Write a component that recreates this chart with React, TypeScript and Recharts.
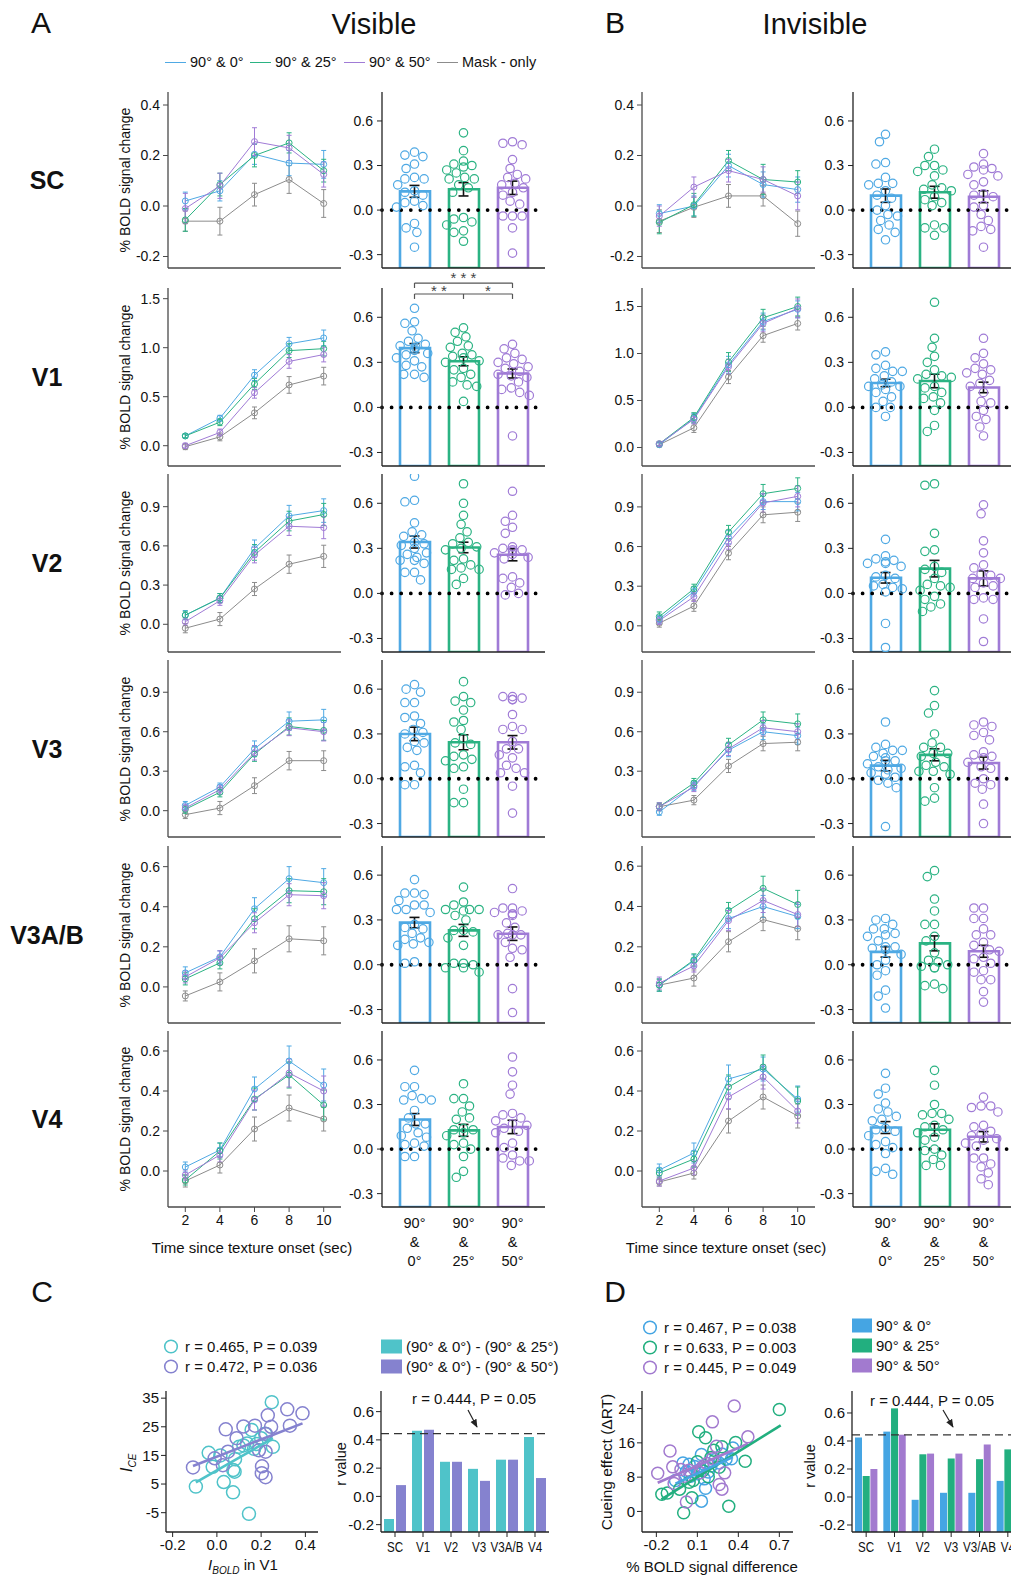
import React from 'react';
import {
  LineChart,
  Line,
  XAxis,
  YAxis,
  ErrorBar,
  ComposedChart,
  Bar,
  Scatter,
  ScatterChart,
  BarChart,
  Cell,
  ReferenceLine,
  ReferenceDot,
} from 'recharts';

const FONT = '"Liberation Sans", Arial, Helvetica, sans-serif';

const BLUE = '#4fa9e4';
const GREEN = '#2bb383';
const PURPLE = '#a07bd6';
const GREY = '#8c8c8c';
const AXIS = '#4a4a4a';
const LINE_COLORS = [BLUE, GREEN, PURPLE, GREY];
const BAR_COLORS = [BLUE, GREEN, PURPLE];

const TIMES = [2, 4, 6, 8, 10];
const REGIONS = ['SC', 'V1', 'V2', 'V3', 'V3A/B', 'V4'];
const CONDITIONS = ['0°', '25°', '50°'];
const LEGEND_A = ['90° & 0°', '90° & 25°', '90° & 50°', 'Mask - only'];

// ---- time courses, rows = 90°&0°, 90°&25°, 90°&50°, mask-only ----
const VIS_SC = [
  [0.02, 0.06, 0.205, 0.17, 0.165],
  [-0.055, 0.085, 0.2, 0.25, 0.14],
  [-0.01, 0.08, 0.255, 0.23, 0.125],
  [-0.06, -0.06, 0.045, 0.105, 0.01],
];
const VIS_SC_ERR = [
  [0.035, 0.04, 0.04, 0.05, 0.055],
  [0.045, 0.045, 0.045, 0.04, 0.045],
  [0.06, 0.05, 0.055, 0.05, 0.05],
  [0.04, 0.055, 0.045, 0.055, 0.055],
];
const VIS_V1 = [
  [0.1, 0.28, 0.72, 1.04, 1.1],
  [0.1, 0.24, 0.63, 0.97, 0.99],
  [0.0, 0.135, 0.54, 0.86, 0.93],
  [-0.01, 0.09, 0.335, 0.62, 0.71],
];
const VIS_V1_ERR = [
  [0.02, 0.03, 0.055, 0.065, 0.08],
  [0.02, 0.035, 0.055, 0.07, 0.075],
  [0.025, 0.035, 0.055, 0.07, 0.075],
  [0.03, 0.04, 0.06, 0.085, 0.09],
];
const VIS_V2 = [
  [0.07, 0.2, 0.58, 0.83, 0.87],
  [0.07, 0.2, 0.55, 0.79, 0.84],
  [0.02, 0.18, 0.53, 0.75, 0.74],
  [-0.03, 0.04, 0.27, 0.46, 0.52],
];
const VIS_V2_ERR = [
  [0.035, 0.035, 0.065, 0.08, 0.09],
  [0.03, 0.035, 0.06, 0.075, 0.085],
  [0.03, 0.035, 0.06, 0.07, 0.085],
  [0.035, 0.05, 0.05, 0.07, 0.085],
];
const VIS_V3 = [
  [0.04, 0.18, 0.47, 0.68, 0.69],
  [0.01, 0.14, 0.43, 0.64, 0.61],
  [0.02, 0.16, 0.44, 0.63, 0.6],
  [-0.03, 0.02, 0.19, 0.38, 0.38],
];
const VIS_V3_ERR = [
  [0.03, 0.03, 0.06, 0.07, 0.08],
  [0.03, 0.035, 0.055, 0.065, 0.075],
  [0.03, 0.035, 0.055, 0.06, 0.07],
  [0.03, 0.05, 0.06, 0.07, 0.075],
];
const VIS_V3AB = [
  [0.07, 0.15, 0.39, 0.54, 0.52],
  [0.04, 0.12, 0.34, 0.48, 0.475],
  [0.05, 0.145, 0.32, 0.46, 0.455],
  [-0.045, 0.025, 0.13, 0.24, 0.23],
];
const VIS_V3AB_ERR = [
  [0.03, 0.03, 0.055, 0.06, 0.07],
  [0.03, 0.03, 0.05, 0.06, 0.065],
  [0.03, 0.035, 0.05, 0.055, 0.065],
  [0.025, 0.045, 0.06, 0.065, 0.07],
];
const VIS_V4 = [
  [0.02, 0.105, 0.41, 0.55, 0.43],
  [-0.045, 0.1, 0.36, 0.48, 0.33],
  [-0.02, 0.08, 0.355, 0.49, 0.4],
  [-0.05, 0.03, 0.21, 0.315, 0.26],
];
const VIS_V4_ERR = [
  [0.025, 0.035, 0.06, 0.075, 0.08],
  [0.025, 0.04, 0.055, 0.065, 0.075],
  [0.025, 0.035, 0.05, 0.07, 0.075],
  [0.03, 0.04, 0.06, 0.065, 0.06],
];

const INV_SC = [
  [-0.03, 0.0, 0.16, 0.085, 0.065],
  [-0.065, 0.005, 0.18, 0.105, 0.095],
  [-0.04, 0.075, 0.14, 0.105, 0.04],
  [-0.06, -0.005, 0.04, 0.04, -0.07],
];
const INV_SC_ERR = [
  [0.035, 0.04, 0.045, 0.05, 0.05],
  [0.045, 0.045, 0.04, 0.06, 0.045],
  [0.04, 0.04, 0.045, 0.05, 0.055],
  [0.045, 0.04, 0.045, 0.04, 0.05],
];
const INV_V1 = [
  [0.03, 0.31, 0.88, 1.34, 1.47],
  [0.04, 0.32, 0.91, 1.38, 1.5],
  [0.04, 0.3, 0.86, 1.32, 1.48],
  [0.03, 0.21, 0.75, 1.19, 1.32],
];
const INV_V1_ERR = [
  [0.02, 0.05, 0.09, 0.09, 0.09],
  [0.02, 0.05, 0.1, 0.09, 0.1],
  [0.02, 0.05, 0.08, 0.09, 0.1],
  [0.025, 0.05, 0.07, 0.07, 0.07],
];
const INV_V2 = [
  [0.05, 0.26, 0.67, 0.94, 0.94],
  [0.07, 0.28, 0.71, 1.0, 1.04],
  [0.04, 0.22, 0.63, 0.93, 0.98],
  [0.02, 0.15, 0.55, 0.84, 0.86],
];
const INV_V2_ERR = [
  [0.03, 0.035, 0.05, 0.06, 0.07],
  [0.035, 0.035, 0.05, 0.07, 0.08],
  [0.03, 0.035, 0.05, 0.07, 0.08],
  [0.03, 0.04, 0.05, 0.06, 0.07],
];
const INV_V3 = [
  [-0.01, 0.19, 0.46, 0.6, 0.57],
  [0.03, 0.21, 0.5, 0.69, 0.66],
  [0.03, 0.18, 0.47, 0.63, 0.6],
  [0.03, 0.08, 0.34, 0.51, 0.52],
];
const INV_V3_ERR = [
  [0.025, 0.035, 0.05, 0.06, 0.065],
  [0.03, 0.035, 0.05, 0.06, 0.075],
  [0.03, 0.035, 0.05, 0.055, 0.06],
  [0.025, 0.035, 0.05, 0.055, 0.065],
];
const INV_V3AB = [
  [0.01, 0.13, 0.34, 0.4, 0.35],
  [0.01, 0.135, 0.38, 0.49, 0.41],
  [0.02, 0.105, 0.33, 0.43, 0.36],
  [0.01, 0.045, 0.225, 0.335, 0.29],
];
const INV_V3AB_ERR = [
  [0.03, 0.03, 0.05, 0.055, 0.06],
  [0.03, 0.03, 0.04, 0.06, 0.07],
  [0.03, 0.03, 0.05, 0.06, 0.06],
  [0.03, 0.04, 0.05, 0.055, 0.055],
];
const INV_V4 = [
  [0.005, 0.09, 0.46, 0.51, 0.36],
  [-0.01, 0.06, 0.42, 0.52, 0.35],
  [-0.05, 0.015, 0.37, 0.47, 0.3],
  [-0.055, -0.01, 0.25, 0.37, 0.275],
];
const INV_V4_ERR = [
  [0.03, 0.05, 0.07, 0.06, 0.065],
  [0.025, 0.04, 0.06, 0.06, 0.07],
  [0.025, 0.035, 0.06, 0.06, 0.06],
  [0.02, 0.03, 0.06, 0.06, 0.06],
];

// ---- averaged responses (bars) and single subjects (dots) ----
const VIS_MEAN = [
  [0.126, 0.14, 0.15],
  [0.395, 0.307, 0.226],
  [0.342, 0.306, 0.257],
  [0.3, 0.244, 0.244],
  [0.282, 0.23, 0.208],
  [0.199, 0.126, 0.149],
];
const VIS_SEM = [
  [0.04, 0.045, 0.045],
  [0.03, 0.03, 0.03],
  [0.04, 0.035, 0.04],
  [0.045, 0.05, 0.045],
  [0.035, 0.04, 0.045],
  [0.04, 0.04, 0.045],
];
const INV_MEAN = [
  [0.097, 0.12, 0.09],
  [0.163, 0.176, 0.133],
  [0.104, 0.165, 0.1],
  [0.088, 0.16, 0.105],
  [0.086, 0.143, 0.09],
  [0.145, 0.13, 0.083],
];
const INV_SEM = [
  [0.045, 0.04, 0.04],
  [0.025, 0.045, 0.035],
  [0.035, 0.055, 0.05],
  [0.035, 0.04, 0.04],
  [0.035, 0.05, 0.04],
  [0.04, 0.04, 0.035],
];

const VIS_SC_DOTS = [
  [0.39, 0.37, 0.36, 0.31, 0.28, 0.22, 0.21, 0.21, 0.17, 0.13, 0.12, 0.1, 0.06, 0.05, 0.03, 0.02, -0.09, -0.12, -0.15, -0.25],
  [0.52, 0.4, 0.33, 0.31, 0.3, 0.29, 0.27, 0.25, 0.22, 0.21, 0.21, 0.17, 0.15, 0.12, -0.05, -0.06, -0.08, -0.1, -0.14, -0.15, -0.21],
  [0.46, 0.45, 0.44, 0.34, 0.28, 0.24, 0.22, 0.21, 0.18, 0.17, 0.15, 0.12, 0.1, 0.06, 0.04, -0.04, -0.04, -0.04, -0.12, -0.29],
];
const VIS_V1_DOTS = [
  [0.66, 0.57, 0.56, 0.51, 0.46, 0.44, 0.42, 0.41, 0.4, 0.39, 0.38, 0.36, 0.35, 0.33, 0.31, 0.28, 0.27, 0.22, 0.22, 0.2],
  [0.53, 0.5, 0.47, 0.44, 0.41, 0.4, 0.36, 0.35, 0.34, 0.33, 0.31, 0.3, 0.26, 0.25, 0.22, 0.2, 0.17, 0.15, 0.14, 0.04],
  [0.42, 0.39, 0.36, 0.33, 0.32, 0.3, 0.29, 0.27, 0.26, 0.24, 0.22, 0.21, 0.2, 0.17, 0.13, 0.12, 0.1, 0.08, -0.19],
];
const VIS_V2_DOTS = [
  [0.78, 0.62, 0.61, 0.47, 0.41, 0.39, 0.38, 0.34, 0.33, 0.32, 0.3, 0.27, 0.26, 0.24, 0.22, 0.22, 0.2, 0.14, 0.14, 0.09],
  [0.73, 0.6, 0.52, 0.46, 0.41, 0.37, 0.34, 0.33, 0.31, 0.3, 0.29, 0.23, 0.22, 0.19, 0.17, 0.16, 0.16, 0.1, 0.06],
  [0.68, 0.52, 0.48, 0.44, 0.4, 0.31, 0.3, 0.29, 0.29, 0.28, 0.27, 0.26, 0.24, 0.23, 0.11, 0.1, 0.07, 0.04, 0.0, -0.01],
];
const VIS_V3_DOTS = [
  [0.63, 0.6, 0.58, 0.51, 0.51, 0.42, 0.41, 0.37, 0.33, 0.31, 0.3, 0.25, 0.24, 0.21, 0.19, 0.09, 0.08, 0.04, -0.04, -0.04],
  [0.65, 0.55, 0.52, 0.51, 0.46, 0.39, 0.38, 0.33, 0.27, 0.24, 0.23, 0.16, 0.15, 0.13, 0.12, 0.08, 0.07, -0.07, -0.16, -0.16],
  [0.55, 0.55, 0.54, 0.53, 0.53, 0.43, 0.35, 0.33, 0.33, 0.25, 0.2, 0.2, 0.16, 0.14, 0.09, 0.07, 0.04, 0.04, -0.05, -0.23],
];
const VIS_V3AB_DOTS = [
  [0.57, 0.48, 0.48, 0.47, 0.43, 0.4, 0.4, 0.37, 0.37, 0.35, 0.27, 0.25, 0.24, 0.21, 0.18, 0.17, 0.15, 0.14, 0.13, 0.02, 0.01],
  [0.52, 0.42, 0.4, 0.37, 0.37, 0.37, 0.36, 0.33, 0.3, 0.23, 0.23, 0.22, 0.18, 0.13, 0.01, 0.01, 0.0, -0.02, -0.02, -0.05],
  [0.51, 0.38, 0.38, 0.36, 0.35, 0.34, 0.34, 0.33, 0.28, 0.25, 0.21, 0.2, 0.2, 0.2, 0.15, 0.11, 0.1, 0.05, -0.16, -0.32],
];
const VIS_V4_DOTS = [
  [0.53, 0.42, 0.42, 0.36, 0.34, 0.33, 0.33, 0.26, 0.21, 0.17, 0.17, 0.14, 0.11, 0.09, 0.08, 0.04, 0.03, 0.02, -0.05, -0.05],
  [0.44, 0.34, 0.34, 0.29, 0.25, 0.21, 0.2, 0.14, 0.13, 0.13, 0.11, 0.09, 0.04, 0.03, 0.0, -0.05, -0.15, -0.19],
  [0.62, 0.52, 0.43, 0.37, 0.24, 0.23, 0.21, 0.19, 0.17, 0.16, 0.14, 0.12, 0.11, 0.04, 0.01, -0.04, -0.06, -0.08, -0.08, -0.11],
];
const INV_SC_DOTS = [
  [0.51, 0.46, 0.32, 0.31, 0.22, 0.18, 0.18, 0.17, 0.13, 0.1, 0.08, 0.03, 0.0, -0.03, -0.04, -0.07, -0.1, -0.13, -0.15, -0.2],
  [0.41, 0.36, 0.3, 0.3, 0.27, 0.26, 0.23, 0.17, 0.15, 0.14, 0.13, 0.09, 0.07, 0.05, 0.03, -0.1, -0.12, -0.12, -0.17],
  [0.38, 0.31, 0.29, 0.28, 0.27, 0.24, 0.23, 0.19, 0.17, 0.11, 0.1, 0.09, 0.03, 0.02, -0.03, -0.07, -0.11, -0.13, -0.14, -0.25],
];
const INV_V1_DOTS = [
  [0.37, 0.35, 0.28, 0.26, 0.24, 0.24, 0.21, 0.19, 0.17, 0.15, 0.14, 0.14, 0.12, 0.1, 0.07, 0.04, 0.0, 0.0, -0.06],
  [0.7, 0.46, 0.4, 0.34, 0.3, 0.25, 0.22, 0.21, 0.2, 0.19, 0.14, 0.13, 0.1, 0.07, 0.06, 0.03, -0.02, -0.12, -0.16],
  [0.46, 0.36, 0.33, 0.29, 0.26, 0.25, 0.23, 0.22, 0.18, 0.16, 0.14, 0.1, 0.04, 0.03, -0.02, -0.06, -0.08, -0.13, -0.19],
];
const INV_V2_DOTS = [
  [0.36, 0.25, 0.23, 0.22, 0.21, 0.2, 0.2, 0.18, 0.12, 0.11, 0.1, 0.06, 0.05, 0.04, 0.03, 0.01, -0.2, -0.36],
  [0.73, 0.72, 0.4, 0.29, 0.28, 0.18, 0.16, 0.14, 0.1, 0.06, 0.05, 0.04, 0.02, -0.02, -0.04, -0.07, -0.09, -0.12],
  [0.59, 0.53, 0.35, 0.27, 0.19, 0.17, 0.13, 0.12, 0.1, 0.1, 0.07, 0.05, 0.04, -0.03, -0.04, -0.04, -0.17, -0.32],
];
const INV_V3_DOTS = [
  [0.38, 0.23, 0.21, 0.19, 0.19, 0.17, 0.15, 0.14, 0.12, 0.12, 0.1, 0.08, 0.07, 0.06, 0.04, 0.03, 0.01, -0.01, -0.03, -0.06, -0.32],
  [0.59, 0.49, 0.44, 0.3, 0.24, 0.21, 0.21, 0.17, 0.17, 0.15, 0.11, 0.09, 0.08, 0.05, 0.05, 0.03, -0.06, -0.13, -0.15],
  [0.38, 0.36, 0.35, 0.31, 0.29, 0.26, 0.18, 0.16, 0.15, 0.14, 0.11, 0.08, 0.07, 0.0, -0.03, -0.04, -0.07, -0.17, -0.3],
];
const INV_V3AB_DOTS = [
  [0.31, 0.3, 0.27, 0.24, 0.24, 0.21, 0.2, 0.19, 0.16, 0.12, 0.12, 0.11, 0.1, 0.07, 0.03, 0.0, -0.04, -0.07, -0.17, -0.21, -0.29],
  [0.63, 0.59, 0.44, 0.36, 0.27, 0.27, 0.19, 0.16, 0.08, 0.03, 0.02, 0.0, -0.01, -0.02, -0.02, -0.13, -0.14, -0.16],
  [0.38, 0.38, 0.31, 0.31, 0.24, 0.2, 0.2, 0.15, 0.13, 0.1, 0.09, 0.05, 0.04, 0.01, -0.04, -0.05, -0.1, -0.1, -0.18, -0.25],
];
const INV_V4_DOTS = [
  [0.51, 0.41, 0.37, 0.31, 0.27, 0.25, 0.22, 0.2, 0.19, 0.14, 0.13, 0.12, 0.09, 0.05, 0.03, 0.01, -0.03, -0.13, -0.15, -0.17],
  [0.53, 0.43, 0.3, 0.24, 0.24, 0.23, 0.2, 0.16, 0.15, 0.13, 0.11, 0.08, 0.06, 0.0, -0.01, -0.04, -0.07, -0.11, -0.11],
  [0.35, 0.29, 0.29, 0.28, 0.25, 0.16, 0.15, 0.12, 0.1, 0.09, 0.07, 0.06, 0.04, 0.02, -0.06, -0.06, -0.1, -0.12, -0.16, -0.2, -0.24],
];

// ---- panel C ----
const C_CYAN = '#4fc3c9';
const C_PURPLE = '#8582cf';
const C_PTS_25 = [
  { x: -0.095, y: 4.1 }, { x: -0.037, y: 15.9 }, { x: -0.019, y: 11 }, { x: 0.016, y: 15 },
  { x: 0.031, y: 5.7 }, { x: 0.073, y: 2.1 }, { x: 0.074, y: 9.9 }, { x: 0.08, y: 9.3 },
  { x: 0.082, y: 13.7 }, { x: 0.1, y: 18 }, { x: 0.12, y: 18.5 }, { x: 0.136, y: 19.2 },
  { x: 0.145, y: -5.4 }, { x: 0.157, y: 23.9 }, { x: 0.168, y: 17.3 }, { x: 0.18, y: 19 },
  { x: 0.2, y: 21 }, { x: 0.218, y: 22.6 }, { x: 0.248, y: 33.6 }, { x: 0.253, y: 18 },
];
const C_PTS_50 = [
  { x: -0.108, y: 10.8 }, { x: -0.01, y: 14 }, { x: 0.027, y: 11.6 }, { x: 0.04, y: 24.1 },
  { x: 0.05, y: 16.3 }, { x: 0.089, y: 21 }, { x: 0.12, y: 25.1 }, { x: 0.172, y: 25.4 },
  { x: 0.19, y: 16.8 }, { x: 0.204, y: 11.2 }, { x: 0.203, y: 8.8 }, { x: 0.22, y: 7.4 },
  { x: 0.22, y: 16.3 }, { x: 0.222, y: 22.5 }, { x: 0.23, y: 29 }, { x: 0.245, y: 25 },
  { x: 0.318, y: 31.1 }, { x: 0.33, y: 25.4 }, { x: 0.387, y: 29.7 },
];
const C_FIT_25 = [{ x: -0.095, y: 5.6 }, { x: 0.253, y: 21 }];
const C_FIT_50 = [{ x: -0.108, y: 11.3 }, { x: 0.387, y: 26.2 }];
const C_REGIONS = ['SC', 'V1', 'V2', 'V3', 'V3A/B', 'V4'];
const C_R_25 = [-0.16, 0.465, 0.245, 0.195, 0.26, 0.42];
const C_R_50 = [0.08, 0.472, 0.245, 0.11, 0.26, 0.13];

// ---- panel D ----
const D_BLUE = '#45a5e3';
const D_GREEN = '#22af7f';
const D_PURPLE = '#a27acf';
const D_PTS_0 = [
  { x: -0.005, y: 11.3 }, { x: 0.13, y: 13.3 }, { x: 0.16, y: 5.4 }, { x: 0.13, y: 2.4 },
  { x: 0.35, y: 12.3 }, { x: 0.36, y: 14.8 }, { x: -0.06, y: 7.2 }, { x: 0.02, y: 9.3 },
  { x: 0.05, y: 8.2 }, { x: 0.08, y: 10.5 }, { x: 0.1, y: 8.8 }, { x: 0.12, y: 9.8 },
  { x: 0.15, y: 7.6 }, { x: 0.18, y: 9.2 }, { x: 0.2, y: 10.6 }, { x: 0.23, y: 12.1 },
  { x: 0.26, y: 11.3 }, { x: 0.28, y: 13.4 }, { x: 0.31, y: 12.2 }, { x: 0.04, y: 11 },
];
const D_PTS_25 = [
  { x: -0.16, y: 4 }, { x: -0.12, y: 4.3 }, { x: -0.03, y: 5.2 }, { x: 0.0, y: -0.3 },
  { x: 0.06, y: 3.2 }, { x: 0.11, y: 18.6 }, { x: 0.16, y: 17.2 }, { x: 0.28, y: 15.1 },
  { x: 0.38, y: 16.1 }, { x: 0.45, y: 11.7 }, { x: 0.33, y: 1.2 }, { x: 0.7, y: 23.8 },
  { x: 0.18, y: 8.1 }, { x: 0.04, y: 6.8 }, { x: 0.22, y: 14.3 }, { x: 0.1, y: 11.6 },
  { x: 0.2, y: 12.6 }, { x: 0.26, y: 10.3 }, { x: 0.14, y: 9.5 }, { x: 0.07, y: 7.2 },
];
const D_PTS_50 = [
  { x: -0.19, y: 8.9 }, { x: -0.1, y: 14.1 }, { x: -0.08, y: 10.4 }, { x: -0.07, y: 6.5 },
  { x: -0.02, y: 9.8 }, { x: 0.02, y: 2.2 }, { x: 0.04, y: 9.6 }, { x: 0.21, y: 20.9 },
  { x: 0.24, y: 15.2 }, { x: 0.37, y: 24.6 }, { x: 0.47, y: 17.4 }, { x: 0.3, y: 9 },
  { x: 0.28, y: 5.2 }, { x: 0.14, y: 10.4 }, { x: 0.17, y: 11.2 }, { x: 0.21, y: 12.3 },
  { x: 0.26, y: 6.3 }, { x: 0.01, y: 8.2 }, { x: 0.12, y: 9 },
];
const D_FIT_0 = [{ x: -0.06, y: 6.5 }, { x: 0.36, y: 12.7 }];
const D_FIT_25 = [{ x: -0.163, y: 2.8 }, { x: 0.71, y: 20.1 }];
const D_FIT_50 = [{ x: -0.19, y: 6.7 }, { x: 0.47, y: 15.8 }];
const D_REGIONS = ['SC', 'V1', 'V2', 'V3', 'V3/AB', 'V4'];
const D_R_0 = [0.425, 0.467, -0.02, 0.03, 0.03, 0.115];
const D_R_25 = [0.15, 0.633, 0.305, 0.275, 0.27, 0.34];
const D_R_50 = [0.2, 0.445, 0.31, 0.31, 0.375, 0.3];
const R_CRIT = 0.444;

// ---- layout ----
const ROW_TOP = [92, 288, 474, 660, 846, 1031];
const ROW_BOTTOM = [268, 466, 652, 837, 1023, 1207];
const BAR_DOMAIN: [number, number] = [-0.39, 0.795];
const BAR_TICKS = [-0.3, 0, 0.3, 0.6];
const T_SMALL = [-0.2, 0, 0.2, 0.4];
const T_V1 = [0, 0.5, 1, 1.5];
const T_V23 = [0, 0.3, 0.6, 0.9];
const T_V34 = [0, 0.2, 0.4, 0.6];

const VIS_ROWS = [
  { lines: VIS_SC, err: VIS_SC_ERR, dots: VIS_SC_DOTS, domain: [-0.2455, 0.4515], ticks: T_SMALL },
  { lines: VIS_V1, err: VIS_V1_ERR, dots: VIS_V1_DOTS, domain: [-0.207, 1.609], ticks: T_V1 },
  { lines: VIS_V2, err: VIS_V2_ERR, dots: VIS_V2_DOTS, domain: [-0.212, 1.15], ticks: T_V23 },
  { lines: VIS_V3, err: VIS_V3_ERR, dots: VIS_V3_DOTS, domain: [-0.2, 1.145], ticks: T_V23 },
  { lines: VIS_V3AB, err: VIS_V3AB_ERR, dots: VIS_V3AB_DOTS, domain: [-0.18, 0.703], ticks: T_V34 },
  { lines: VIS_V4, err: VIS_V4_ERR, dots: VIS_V4_DOTS, domain: [-0.18, 0.7], ticks: T_V34 },
];
const INV_ROWS = [
  { lines: INV_SC, err: INV_SC_ERR, dots: INV_SC_DOTS, domain: [-0.2455, 0.4515], ticks: T_SMALL },
  { lines: INV_V1, err: INV_V1_ERR, dots: INV_V1_DOTS, domain: [-0.197, 1.697], ticks: T_V1 },
  { lines: INV_V2, err: INV_V2_ERR, dots: INV_V2_DOTS, domain: [-0.198, 1.149], ticks: T_V23 },
  { lines: INV_V3, err: INV_V3_ERR, dots: INV_V3_DOTS, domain: [-0.2, 1.145], ticks: T_V23 },
  { lines: INV_V3AB, err: INV_V3AB_ERR, dots: INV_V3AB_DOTS, domain: [-0.178, 0.7], ticks: T_V34 },
  { lines: INV_V4, err: INV_V4_ERR, dots: INV_V4_DOTS, domain: [-0.18, 0.7], ticks: T_V34 },
];

const fmt1 = (v: number) => v.toFixed(1);
const tickStyle = { fontSize: 14, fill: '#111', fontFamily: FONT };

// beeswarm: horizontal pixel offsets so the open circles don't pile up
function swarm(values: number[], pxPerY: number): number[] {
  const placed: [number, number][] = [];
  return values.map((v) => {
    const y = v * pxPerY;
    let off = 0;
    for (let k = 0; k < 30; k++) {
      const cand = k === 0 ? 0 : (k % 2 ? -1 : 1) * Math.ceil(k / 2) * 1.2;
      if (placed.every(([px, py]) => Math.hypot(px - cand, py - y) >= 9.2)) {
        off = cand;
        break;
      }
    }
    placed.push([off, y]);
    return off;
  });
}

function TimeCourse({ x0, y0, y1, row, showX }: any) {
  const L = 50, T = 10, R = 10, XH = 34, W = 173;
  const data = TIMES.map((t, i) => {
    const d: any = { t };
    row.lines.forEach((s: number[], k: number) => {
      d['v' + k] = s[i];
      d['e' + k] = row.err[k][i];
    });
    return d;
  });
  return (
    <div style={{ position: 'absolute', left: x0 - L, top: y0 - T }}>
      <LineChart width={L + W + R} height={T + (y1 - y0) + XH} data={data}
        margin={{ top: T, right: R, bottom: 0, left: 0 }}>
        <XAxis dataKey="t" type="number" domain={[1, 11]} ticks={TIMES} height={XH} allowDataOverflow
          axisLine={{ stroke: AXIS, strokeWidth: 1.3 }}
          tickLine={showX ? { stroke: AXIS } : false}
          tick={showX ? tickStyle : false} tickSize={5} tickMargin={3} />
        <YAxis width={L} type="number" domain={row.domain} ticks={row.ticks} allowDataOverflow
          tickFormatter={fmt1} tick={tickStyle} tickSize={5} tickMargin={3}
          axisLine={{ stroke: AXIS, strokeWidth: 1.3 }} tickLine={{ stroke: AXIS }} />
        {[3, 0, 1, 2].map((k) => (
          <Line key={k} dataKey={'v' + k} stroke={LINE_COLORS[k]} strokeWidth={1}
            dot={{ r: 3, fill: 'none', stroke: LINE_COLORS[k], strokeWidth: 1 }}
            activeDot={false} isAnimationActive={false}>
            <ErrorBar dataKey={'e' + k} direction="y" width={2.5} stroke={LINE_COLORS[k]}
              strokeWidth={1} isAnimationActive={false} />
          </Line>
        ))}
      </LineChart>
    </div>
  );
}

const CondTick = (p: any) => (
  <text x={p.x} y={p.y} textAnchor="middle" fontSize={14.5} fill="#111" fontFamily={FONT}>
    <tspan x={p.x} dy={13}>90°</tspan>
    <tspan x={p.x} dy={19}>&amp;</tspan>
    <tspan x={p.x} dy={19}>{p.payload.value}</tspan>
  </text>
);

function SwarmBars({ x0, y0, y1, mean, sem, dots, showX, sig }: any) {
  const L = 45, R = 5, W = 163, XH = 64;
  const T = sig ? 30 : 10;
  const plotH = y1 - y0;
  const pxY = plotH / (BAR_DOMAIN[1] - BAR_DOMAIN[0]);
  const pxX = (W - 16) / 3;
  const bars = CONDITIONS.map((c, i) => ({ cond: c, span: [BAR_DOMAIN[0], mean[i]] }));
  const errs = mean.map((m: number, i: number) => ({ x: i + 1, y: m, sem: sem[i] }));
  const clouds = dots.map((vals: number[], i: number) => {
    const offs = swarm(vals, pxY);
    return vals.map((v, j) => ({ x: i + 1 + offs[j] / pxX, y: v }));
  });
  return (
    <div style={{ position: 'absolute', left: x0 - L, top: y0 - T }}>
      <ComposedChart width={L + W + R} height={T + plotH + XH} data={bars}
        margin={{ top: T, right: R, bottom: 0, left: 0 }}>
        <XAxis dataKey="cond" height={XH} padding={{ left: 8, right: 8 }} interval={0}
          axisLine={{ stroke: '#222', strokeWidth: 1.3 }} tickLine={false}
          tick={showX ? <CondTick /> : false} />
        <XAxis xAxisId="num" type="number" dataKey="x" domain={[0.5, 3.5]} allowDataOverflow hide
          padding={{ left: 8, right: 8 }} />
        <YAxis width={L} type="number" domain={BAR_DOMAIN} ticks={BAR_TICKS} allowDataOverflow
          tickFormatter={fmt1} tick={tickStyle} tickSize={5} tickMargin={4}
          axisLine={{ stroke: '#222', strokeWidth: 1.3 }} tickLine={{ stroke: '#222' }} />
        <Bar dataKey="span" barSize={30} isAnimationActive={false}>
          {bars.map((b, i) => (
            <Cell key={b.cond} fill="none" stroke={BAR_COLORS[i]} strokeWidth={2.6} />
          ))}
        </Bar>
        <ReferenceLine y={0} stroke="#000" strokeWidth={3.8} strokeDasharray="0 9.6" strokeLinecap="round" />
        {clouds.map((pts: any[], i: number) => (
          <Scatter key={i} xAxisId="num" data={pts} dataKey="y" isAnimationActive={false}
            shape={(p: any) => (
              <circle cx={p.cx} cy={p.cy} r={4.2} fill="none" stroke={BAR_COLORS[i]} strokeWidth={1.2} />
            )} />
        ))}
        <Scatter xAxisId="num" data={errs} dataKey="y" isAnimationActive={false} shape={() => <g />}>
          <ErrorBar dataKey="sem" direction="y" width={5} stroke="#111" strokeWidth={1.6}
            isAnimationActive={false} />
        </Scatter>
        {sig && [
          <ReferenceLine key="s1" xAxisId="num" ifOverflow="visible" stroke="#555" strokeWidth={1.2}
            segment={[{ x: 1, y: 0.828 }, { x: 3, y: 0.828 }]} />,
          <ReferenceLine key="s1a" xAxisId="num" ifOverflow="visible" stroke="#555" strokeWidth={1.2}
            segment={[{ x: 1, y: 0.828 }, { x: 1, y: 0.795 }]} />,
          <ReferenceLine key="s1b" xAxisId="num" ifOverflow="visible" stroke="#555" strokeWidth={1.2}
            segment={[{ x: 3, y: 0.828 }, { x: 3, y: 0.795 }]} />,
          <ReferenceLine key="s2" xAxisId="num" ifOverflow="visible" stroke="#555" strokeWidth={1.2}
            segment={[{ x: 1, y: 0.755 }, { x: 3, y: 0.755 }]} />,
          ...[1, 2, 3].map((c) => (
            <ReferenceLine key={'t' + c} xAxisId="num" ifOverflow="visible" stroke="#555" strokeWidth={1.2}
              segment={[{ x: c, y: 0.755 }, { x: c, y: 0.722 }]} />
          )),
          <ReferenceDot key="d3" xAxisId="num" x={2} y={0.862} r={0} ifOverflow="visible"
            fill="none" stroke="none"
            label={{ value: '* * *', position: 'center', fill: '#444', fontSize: 15 }} />,
          <ReferenceDot key="d2" xAxisId="num" x={1.5} y={0.78} r={0} ifOverflow="visible"
            fill="none" stroke="none"
            label={{ value: '* *', position: 'center', fill: '#444', fontSize: 15 }} />,
          <ReferenceDot key="d1" xAxisId="num" x={2.5} y={0.78} r={0} ifOverflow="visible"
            fill="none" stroke="none"
            label={{ value: '*', position: 'center', fill: '#444', fontSize: 15 }} />,
        ]}
      </ComposedChart>
    </div>
  );
}

const NarrowTick = (p: any) => (
  <text x={p.x} y={p.y + 13} textAnchor="middle" fontSize={14.5} fill="#111" fontFamily={FONT}
    transform={`translate(${p.x} 0) scale(0.8 1) translate(${-p.x} 0)`}>
    {p.payload.value}
  </text>
);

const openCircle = (c: string, r: number) => (p: any) => (
  <circle cx={p.cx} cy={p.cy} r={r} fill="none" stroke={c} strokeWidth={1.5} />
);

function CScatter() {
  const L = 40, T = 8, W = 152, H = 141;
  return (
    <div style={{ position: 'absolute', left: 166 - L, top: 1391 - T }}>
      <ScatterChart width={L + W + 10} height={T + H + 32} margin={{ top: T, right: 10, bottom: 0, left: 0 }}>
        <XAxis type="number" dataKey="x" domain={[-0.23, 0.457]} ticks={[-0.2, 0, 0.2, 0.4]} allowDataOverflow
          tickFormatter={fmt1} height={32} tick={{ ...tickStyle, fontSize: 15 }} tickSize={5} tickMargin={2}
          axisLine={{ stroke: '#222', strokeWidth: 1.3 }} tickLine={{ stroke: '#222' }} />
        <YAxis type="number" dataKey="y" width={L} domain={[-11.75, 37.5]} ticks={[-5, 5, 15, 25, 35]}
          allowDataOverflow tick={{ ...tickStyle, fontSize: 15 }} tickSize={5} tickMargin={2}
          axisLine={{ stroke: '#222', strokeWidth: 1.3 }} tickLine={{ stroke: '#222' }} />
        <Scatter data={C_PTS_25} shape={openCircle(C_CYAN, 6.5)} isAnimationActive={false} />
        <Scatter data={C_PTS_50} shape={openCircle(C_PURPLE, 6.5)} isAnimationActive={false} />
        <Scatter data={C_FIT_25} line={{ stroke: C_CYAN, strokeWidth: 2.6 }} shape={() => <g />} isAnimationActive={false} />
        <Scatter data={C_FIT_50} line={{ stroke: C_PURPLE, strokeWidth: 2.6 }} shape={() => <g />} isAnimationActive={false} />
      </ScatterChart>
    </div>
  );
}

function CBars() {
  const L = 40, T = 8, W = 168, H = 141;
  const data = C_REGIONS.map((r, i) => ({ r, a: [-0.252, C_R_25[i]], b: [-0.252, C_R_50[i]] }));
  return (
    <div style={{ position: 'absolute', left: 381 - L, top: 1391 - T }}>
      <BarChart width={L + W + 5} height={T + H + 34} data={data} barGap={2}
        margin={{ top: T, right: 5, bottom: 0, left: 0 }}>
        <XAxis dataKey="r" height={34} tick={<NarrowTick />} tickSize={5} interval={0}
          axisLine={{ stroke: '#222', strokeWidth: 1.3 }} tickLine={{ stroke: '#222' }} />
        <YAxis width={L} type="number" domain={[-0.252, 0.746]} ticks={[-0.2, 0, 0.2, 0.4, 0.6]}
          allowDataOverflow tickFormatter={fmt1} tick={{ ...tickStyle, fontSize: 15 }} tickSize={5} tickMargin={2}
          axisLine={{ stroke: '#222', strokeWidth: 1.3 }} tickLine={{ stroke: '#222' }} />
        <Bar dataKey="a" fill={C_CYAN} barSize={10} isAnimationActive={false} />
        <Bar dataKey="b" fill={C_PURPLE} barSize={10} isAnimationActive={false} />
        <ReferenceLine y={R_CRIT} stroke="#333" strokeWidth={1.3} strokeDasharray="8 5" />
      </BarChart>
    </div>
  );
}

function DScatter() {
  const L = 40, T = 8, W = 151, H = 141;
  return (
    <div style={{ position: 'absolute', left: 642 - L, top: 1391 - T }}>
      <ScatterChart width={L + W + 10} height={T + H + 32} margin={{ top: T, right: 10, bottom: 0, left: 0 }}>
        <XAxis type="number" dataKey="x" domain={[-0.305, 0.8]} ticks={[-0.2, 0.1, 0.4, 0.7]} allowDataOverflow
          tickFormatter={fmt1} height={32} tick={{ ...tickStyle, fontSize: 15 }} tickSize={5} tickMargin={2}
          axisLine={{ stroke: '#222', strokeWidth: 1.3 }} tickLine={{ stroke: '#222' }} />
        <YAxis type="number" dataKey="y" width={L} domain={[-4.8, 28.1]} ticks={[0, 8, 16, 24]}
          allowDataOverflow tick={{ ...tickStyle, fontSize: 15 }} tickSize={5} tickMargin={2}
          axisLine={{ stroke: '#222', strokeWidth: 1.3 }} tickLine={{ stroke: '#222' }} />
        <Scatter data={D_PTS_0} shape={openCircle(D_BLUE, 6)} isAnimationActive={false} />
        <Scatter data={D_PTS_25} shape={openCircle(D_GREEN, 6)} isAnimationActive={false} />
        <Scatter data={D_PTS_50} shape={openCircle(D_PURPLE, 6)} isAnimationActive={false} />
        <Scatter data={D_FIT_50} line={{ stroke: D_PURPLE, strokeWidth: 2.6 }} shape={() => <g />} isAnimationActive={false} />
        <Scatter data={D_FIT_25} line={{ stroke: D_GREEN, strokeWidth: 2.6 }} shape={() => <g />} isAnimationActive={false} />
        <Scatter data={D_FIT_0} line={{ stroke: D_BLUE, strokeWidth: 2.6 }} shape={() => <g />} isAnimationActive={false} />
      </ScatterChart>
    </div>
  );
}

function DBars() {
  const L = 40, T = 8, W = 170, H = 141;
  const lo = -0.25;
  const data = D_REGIONS.map((r, i) => ({ r, a: [lo, D_R_0[i]], b: [lo, D_R_25[i]], c: [lo, D_R_50[i]] }));
  return (
    <div style={{ position: 'absolute', left: 852 - L, top: 1391 - T }}>
      <BarChart width={L + W + 5} height={T + H + 34} data={data} barGap={0.7}
        margin={{ top: T, right: 5, bottom: 0, left: 0 }}>
        <XAxis dataKey="r" height={34} tick={<NarrowTick />} tickSize={5} interval={0}
          axisLine={{ stroke: '#222', strokeWidth: 1.3 }} tickLine={{ stroke: '#222' }} />
        <YAxis width={L} type="number" domain={[lo, 0.757]} ticks={[-0.2, 0, 0.2, 0.4, 0.6]}
          allowDataOverflow tickFormatter={fmt1} tick={{ ...tickStyle, fontSize: 15 }} tickSize={5} tickMargin={2}
          axisLine={{ stroke: '#222', strokeWidth: 1.3 }} tickLine={{ stroke: '#222' }} />
        <Bar dataKey="a" fill={D_BLUE} barSize={7} isAnimationActive={false} />
        <Bar dataKey="b" fill={D_GREEN} barSize={7} isAnimationActive={false} />
        <Bar dataKey="c" fill={D_PURPLE} barSize={7} isAnimationActive={false} />
        <ReferenceLine y={R_CRIT} stroke="#333" strokeWidth={1.3} strokeDasharray="8 5" />
      </BarChart>
    </div>
  );
}

function Txt({ x, y, size = 15, anchor = 'middle', weight = 400, rotate = false, style = {}, children }: any) {
  const tx = anchor === 'middle' ? '-50%' : anchor === 'start' ? '0' : '-100%';
  return (
    <div style={{
      position: 'absolute', left: x, top: y, fontSize: size, fontWeight: weight, lineHeight: 1,
      whiteSpace: 'nowrap', transform: `translate(${tx}, -50%)${rotate ? ' rotate(-90deg)' : ''}`, ...style,
    }}>{children}</div>
  );
}

export default function App() {
  const legendX = [165, 250, 344, 437];
  return (
    <div style={{
      position: 'absolute', left: 0, top: 0, width: 1011, height: 1576, overflow: 'hidden',
      background: '#fff', fontFamily: FONT, color: '#111',
    }}>
      <Txt x={41} y={23} size={30}>A</Txt>
      <Txt x={374} y={24} size={29}>Visible</Txt>
      <Txt x={615} y={23} size={30}>B</Txt>
      <Txt x={815} y={24} size={29}>Invisible</Txt>

      {REGIONS.map((r, i) => (
        <Txt key={r} x={47} y={(ROW_TOP[i] + ROW_BOTTOM[i]) / 2} size={25} weight={700}>{r}</Txt>
      ))}
      {REGIONS.map((r, i) => (
        <Txt key={'yl' + r} x={125} y={(ROW_TOP[i] + ROW_BOTTOM[i]) / 2} size={14} rotate>% BOLD signal change</Txt>
      ))}

      {VIS_ROWS.map((row, i) => (
        <TimeCourse key={'vl' + i} x0={168} y0={ROW_TOP[i]} y1={ROW_BOTTOM[i]} row={row} showX={i === 5} />
      ))}
      {INV_ROWS.map((row, i) => (
        <TimeCourse key={'il' + i} x0={642} y0={ROW_TOP[i]} y1={ROW_BOTTOM[i]} row={row} showX={i === 5} />
      ))}
      {VIS_ROWS.map((row, i) => (
        <SwarmBars key={'vb' + i} x0={382} y0={ROW_TOP[i]} y1={ROW_BOTTOM[i]} mean={VIS_MEAN[i]}
          sem={VIS_SEM[i]} dots={row.dots} showX={i === 5} sig={i === 1} />
      ))}
      {INV_ROWS.map((row, i) => (
        <SwarmBars key={'ib' + i} x0={853} y0={ROW_TOP[i]} y1={ROW_BOTTOM[i]} mean={INV_MEAN[i]}
          sem={INV_SEM[i]} dots={row.dots} showX={i === 5} sig={false} />
      ))}

      <Txt x={252} y={1247} size={15}>Time since texture onset (sec)</Txt>
      <Txt x={726} y={1247} size={15}>Time since texture onset (sec)</Txt>

      {/* panel A legend */}
      {LEGEND_A.map((t, i) => (
        <div key={t} style={{
          position: 'absolute', left: legendX[i], top: 62, transform: 'translateY(-50%)',
          display: 'flex', alignItems: 'center', fontSize: 14.5, whiteSpace: 'nowrap',
        }}>
          <span style={{ display: 'inline-block', width: 21, borderTop: `1.6px solid ${LINE_COLORS[i]}`, marginRight: 4 }} />
          {t}
        </div>
      ))}

      {/* panel C */}
      <Txt x={42} y={1292} size={30}>C</Txt>
      <CScatter />
      <CBars />
      <Txt x={128} y={1463} size={17} rotate style={{ fontStyle: 'italic' }}>
        I<sub style={{ fontSize: 10 }}>CE</sub>
      </Txt>
      <Txt x={243} y={1566} size={15}>
        <span style={{ fontStyle: 'italic' }}>I<sub style={{ fontSize: 10 }}>BOLD</sub></span> in V1
      </Txt>
      <Txt x={341} y={1464} size={14.5} rotate>r value</Txt>
      <Txt x={474} y={1398} size={15}>r = 0.444, P = 0.05</Txt>
      {[
        { c: C_CYAN, t: 'r = 0.465, P = 0.039', y: 1346 },
        { c: C_PURPLE, t: 'r = 0.472, P = 0.036', y: 1366 },
      ].map((l) => (
        <div key={l.t} style={{ position: 'absolute', left: 163, top: l.y, transform: 'translateY(-50%)', display: 'flex', alignItems: 'center', fontSize: 15, whiteSpace: 'nowrap' }}>
          <svg width={16} height={16} style={{ marginRight: 6 }}><circle cx={8} cy={8} r={6.3} fill="none" stroke={l.c} strokeWidth={1.6} /></svg>
          {l.t}
        </div>
      ))}
      {[
        { c: C_CYAN, t: '(90° & 0°) - (90° & 25°)', y: 1346 },
        { c: C_PURPLE, t: '(90° & 0°) - (90° & 50°)', y: 1366 },
      ].map((l) => (
        <div key={l.t} style={{ position: 'absolute', left: 381, top: l.y, transform: 'translateY(-50%)', display: 'flex', alignItems: 'center', fontSize: 15, whiteSpace: 'nowrap' }}>
          <span style={{ display: 'inline-block', width: 21, height: 14, background: l.c, marginRight: 4 }} />
          {l.t}
        </div>
      ))}

      {/* panel D */}
      <Txt x={615} y={1292} size={30}>D</Txt>
      <DScatter />
      <DBars />
      <Txt x={607} y={1462} size={15.5} rotate>Cueing effect (ΔRT)</Txt>
      <Txt x={712} y={1566} size={15}>% BOLD signal difference</Txt>
      <Txt x={810} y={1466} size={14.5} rotate>r value</Txt>
      <Txt x={932} y={1400} size={15}>r = 0.444, P = 0.05</Txt>
      {[
        { c: D_BLUE, t: 'r = 0.467, P = 0.038', y: 1327 },
        { c: D_GREEN, t: 'r = 0.633, P = 0.003', y: 1347 },
        { c: D_PURPLE, t: 'r = 0.445, P = 0.049', y: 1367 },
      ].map((l) => (
        <div key={l.t} style={{ position: 'absolute', left: 642, top: l.y, transform: 'translateY(-50%)', display: 'flex', alignItems: 'center', fontSize: 15, whiteSpace: 'nowrap' }}>
          <svg width={16} height={16} style={{ marginRight: 6 }}><circle cx={8} cy={8} r={6.3} fill="none" stroke={l.c} strokeWidth={1.6} /></svg>
          {l.t}
        </div>
      ))}
      {[
        { c: D_BLUE, t: '90° & 0°', y: 1325 },
        { c: D_GREEN, t: '90° & 25°', y: 1345 },
        { c: D_PURPLE, t: '90° & 50°', y: 1365 },
      ].map((l) => (
        <div key={l.t} style={{ position: 'absolute', left: 852, top: l.y, transform: 'translateY(-50%)', display: 'flex', alignItems: 'center', fontSize: 15, whiteSpace: 'nowrap' }}>
          <span style={{ display: 'inline-block', width: 20, height: 14, background: l.c, marginRight: 4 }} />
          {l.t}
        </div>
      ))}

      {/* arrows to the significance threshold */}
      <svg width={1011} height={1576} style={{ position: 'absolute', left: 0, top: 0, pointerEvents: 'none' }}>
        <defs>
          <marker id="ah" viewBox="0 0 10 10" refX="9" refY="5" markerWidth="7" markerHeight="7" orient="auto">
            <path d="M0,1 L10,5 L0,9 z" fill="#222" />
          </marker>
        </defs>
        <line x1={468} y1={1410} x2={477} y2={1427} stroke="#222" strokeWidth={1.2} markerEnd="url(#ah)" />
        <line x1={943} y1={1410} x2={953} y2={1427} stroke="#222" strokeWidth={1.2} markerEnd="url(#ah)" />
      </svg>
    </div>
  );
}
